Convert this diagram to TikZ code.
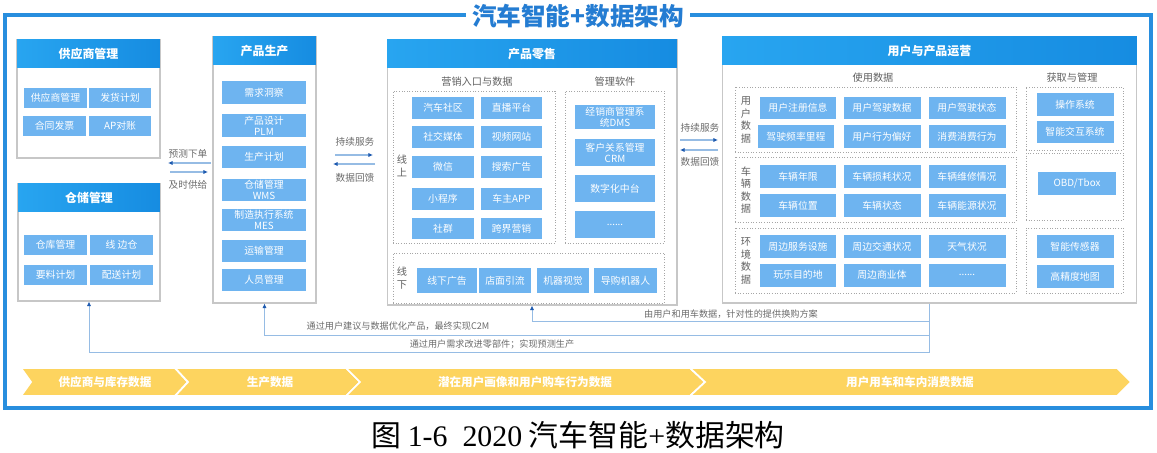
\documentclass[tikz,border=0pt]{standalone}
\usepackage{fontspec}
\setmainfont{Noto Sans CJK SC}
\newfontfamily\capfont{Liberation Serif}
\usepackage{tikz}
\usetikzlibrary{arrows.meta}
\definecolor{frameblue}{RGB}{40,142,222}
\definecolor{titleblue}{RGB}{36,124,210}
\definecolor{headleft}{RGB}{40,165,240}
\definecolor{headright}{RGB}{22,140,225}
\definecolor{itemblue}{RGB}{110,180,240}
\definecolor{lineblue}{RGB}{150,188,228}
\definecolor{tipblue}{RGB}{30,90,175}
\definecolor{bandyellow}{RGB}{253,212,95}
\tikzset{
  panelbox/.style={draw=black!22, fill=white, line width=0.6pt, inner sep=0pt},
  headbar/.style={left color=headleft, right color=headright, text=white, anchor=north,
    font=\bfseries\fontsize{6.8}{8}\selectfont, minimum height=0.56cm, inner sep=0pt},
  itembox/.style={fill=itemblue, text=white, align=center, inner sep=0pt,
    font=\fontsize{5.6}{6.3}\selectfont},
  groupbox/.style={draw=black!35, densely dotted, line width=0.5pt, inner sep=0pt},
  sublabel/.style={text=black!62, font=\fontsize{5.8}{7}\selectfont},
  vlabel/.style={text=black!62, align=center, font=\fontsize{5.8}{7.1}\selectfont},
  sidelabel/.style={text=black!58, font=\fontsize{5.5}{7}\selectfont},
  fblabel/.style={text=black!58, font=\fontsize{5.2}{6}\selectfont},
  flowarrow/.style={draw=lineblue, line width=0.6pt, -{Latex[length=2.6pt,width=2.4pt,color=tipblue]}},
  fbline/.style={draw=lineblue, line width=0.5pt, -{Latex[length=2.6pt,width=2.4pt,color=tipblue]}},
  bandseg/.style={fill=bandyellow, draw=white, line width=1pt},
  bandtext/.style={text=white, font=\bfseries\fontsize{6.6}{8}\selectfont},
}
\begin{document}
\begin{tikzpicture}[x=0.02cm, y=-0.02cm]
        \useasboundingbox (0,0) rectangle (1157,453);
        % Frame and title
        \draw[frameblue, line width=1.8pt] (5,15) rectangle (1151,408);
        \node[fill=white, minimum width=4.1cm, text=titleblue, font=\bfseries\fontsize{14}{16}\selectfont] (title) at (578,16) {汽车智能+数据架构};
        % Supplier panel
        \node[panelbox, minimum width=2.86cm, minimum height=2.36cm] (sup) at (88.5,99) {};
        \node[headbar, minimum width=2.86cm] (suph) at (sup.north) {供应商管理};
        \node[itembox, minimum width=1.26cm, minimum height=0.4cm] (sup1) at (55.5,98) {供应商管理};
        \node[itembox, minimum width=1.26cm, minimum height=0.4cm] (sup2) at (120,98) {发货计划};
        \node[itembox, minimum width=1.26cm, minimum height=0.4cm] (sup3) at (54.5,126) {合同发票};
        \node[itembox, minimum width=1.26cm, minimum height=0.4cm] (sup4) at (120,126) {AP对账};
        % Storage panel
        \node[panelbox, minimum width=2.84cm, minimum height=2.34cm] (stor) at (89,242.5) {};
        \node[headbar, minimum width=2.84cm] (storh) at (stor.north) {仓储管理};
        \node[itembox, minimum width=1.26cm, minimum height=0.4cm] (stor1) at (55.5,245) {仓库管理};
        \node[itembox, minimum width=1.26cm, minimum height=0.4cm] (stor2) at (121.5,245) {线 边仓};
        \node[itembox, minimum width=1.26cm, minimum height=0.4cm] (stor3) at (55.5,275) {要料计划};
        \node[itembox, minimum width=1.26cm, minimum height=0.4cm] (stor4) at (121.5,275) {配送计划};
        % Production panel
        \node[panelbox, minimum width=2.06cm, minimum height=5.32cm] (prod) at (264.5,170) {};
        \node[headbar, minimum width=2.06cm] (prodh) at (prod.north) {产品生产};
        \node[itembox, minimum width=1.68cm, minimum height=0.46cm] (prod1) at (264,92.5) {需求洞察};
        \node[itembox, minimum width=1.68cm, minimum height=0.46cm] (prod2) at (264,125.5) {产品设计\\PLM};
        \node[itembox, minimum width=1.68cm, minimum height=0.46cm] (prod3) at (264,157) {生产计划};
        \node[itembox, minimum width=1.68cm, minimum height=0.46cm] (prod4) at (264,190) {仓储管理\\WMS};
        \node[itembox, minimum width=1.68cm, minimum height=0.46cm] (prod5) at (264,220) {制造执行系统\\MES};
        \node[itembox, minimum width=1.68cm, minimum height=0.44cm] (prod6) at (264,250.5) {运输管理};
        \node[itembox, minimum width=1.68cm, minimum height=0.44cm] (prod7) at (264,279.5) {人员管理};
        % Retail panel
        \node[panelbox, minimum width=5.8cm, minimum height=5.3cm] (ret) at (532,172.5) {};
        \node[headbar, minimum width=5.8cm] (reth) at (ret.north) {产品零售};
        \node[sublabel] (retl1) at (477,82) {营销入口与数据};
        \node[sublabel] (retl2) at (615,82) {管理软件};
        \node[groupbox, minimum width=3.24cm, minimum height=3.04cm] (online) at (474,167) {};
        \node[groupbox, minimum width=1.98cm, minimum height=3.04cm] (soft) at (614.5,167) {};
        \node[groupbox, minimum width=5.42cm, minimum height=1.0cm] (offline) at (528.5,278) {};
        \node[vlabel] (onl) at (402,166) {线\\上};
        \node[vlabel] (offl) at (402,278) {线\\下};
        \node[itembox, minimum width=1.24cm, minimum height=0.44cm] (on1) at (443,108) {汽车社区};
        \node[itembox, minimum width=1.24cm, minimum height=0.44cm] (on2) at (511.5,108) {直播平台};
        \node[itembox, minimum width=1.24cm, minimum height=0.44cm] (on3) at (443,137) {社交媒体};
        \node[itembox, minimum width=1.24cm, minimum height=0.44cm] (on4) at (511.5,137) {视频网站};
        \node[itembox, minimum width=1.24cm, minimum height=0.44cm] (on5) at (443,167) {微信};
        \node[itembox, minimum width=1.24cm, minimum height=0.44cm] (on6) at (511.5,167) {搜索广告};
        \node[itembox, minimum width=1.24cm, minimum height=0.44cm] (on7) at (443,199) {小程序};
        \node[itembox, minimum width=1.24cm, minimum height=0.44cm] (on8) at (511.5,199) {车主APP};
        \node[itembox, minimum width=1.24cm, minimum height=0.44cm] (on9) at (443,228.5) {社群};
        \node[itembox, minimum width=1.24cm, minimum height=0.44cm] (on10) at (511.5,228.5) {跨界营销};
        \node[itembox, minimum width=1.6cm, minimum height=0.5cm] (soft1) at (615,117) {经销商管理系\\统DMS};
        \node[itembox, minimum width=1.6cm, minimum height=0.54cm] (soft2) at (615,152.5) {客户关系管理\\CRM};
        \node[itembox, minimum width=1.6cm, minimum height=0.54cm] (soft3) at (615,188.5) {数字化中台};
        \node[itembox, minimum width=1.6cm, minimum height=0.54cm] (soft4) at (615,224.5) {......};
        \node[itembox, minimum width=1.2cm, minimum height=0.5cm] (off1) at (447,280.5) {线下广告};
        \node[itembox, minimum width=1.04cm, minimum height=0.5cm] (off2) at (505,280.5) {店面引流};
        \node[itembox, minimum width=1.04cm, minimum height=0.5cm] (off3) at (563,280.5) {机器视觉};
        \node[itembox, minimum width=1.26cm, minimum height=0.5cm] (off4) at (625.5,280.5) {导购机器人};
        % Operations panel
        \node[panelbox, minimum width=8.3cm, minimum height=5.32cm] (ops) at (929.5,170) {};
        \node[headbar, minimum width=8.3cm] (opsh) at (ops.north) {用户与产品运营};
        \node[sublabel] (opsl1) at (873,78) {使用数据};
        \node[sublabel] (opsl2) at (1072,78) {获取与管理};
        \node[groupbox, minimum width=5.62cm, minimum height=1.3cm] (user) at (875.5,119.5) {};
        \node[groupbox, minimum width=5.62cm, minimum height=1.3cm] (car) at (875.5,189.5) {};
        \node[groupbox, minimum width=5.62cm, minimum height=1.3cm] (env) at (875.5,260.5) {};
        \node[groupbox, minimum width=1.94cm, minimum height=1.26cm] (get1) at (1074.5,118.5) {};
        \node[groupbox, minimum width=1.94cm, minimum height=1.34cm] (get2) at (1074.5,186.5) {};
        \node[groupbox, minimum width=1.94cm, minimum height=1.3cm] (get3) at (1074.5,260.5) {};
        \node[vlabel] (userl) at (746,120) {用\\户\\数\\据};
        \node[vlabel] (carl) at (746,190) {车\\辆\\数\\据};
        \node[vlabel] (envl) at (746,261) {环\\境\\数\\据};
        \node[itembox, minimum width=1.54cm, minimum height=0.46cm] (user1) at (798,108) {用户注册信息};
        \node[itembox, minimum width=1.54cm, minimum height=0.46cm] (user2) at (882,108) {用户驾驶数据};
        \node[itembox, minimum width=1.54cm, minimum height=0.46cm] (user3) at (967,108) {用户驾驶状态};
        \node[itembox, minimum width=1.54cm, minimum height=0.46cm] (user4) at (796,136.5) {驾驶频率里程};
        \node[itembox, minimum width=1.54cm, minimum height=0.46cm] (user5) at (882,136.5) {用户行为偏好};
        \node[itembox, minimum width=1.54cm, minimum height=0.46cm] (user6) at (967,136.5) {消费消费行为};
        \node[itembox, minimum width=1.54cm, minimum height=0.46cm] (car1) at (798,176.5) {车辆年限};
        \node[itembox, minimum width=1.54cm, minimum height=0.46cm] (car2) at (882,176.5) {车辆损耗状况};
        \node[itembox, minimum width=1.54cm, minimum height=0.46cm] (car3) at (967,176.5) {车辆维修情况};
        \node[itembox, minimum width=1.54cm, minimum height=0.46cm] (car4) at (798,205.5) {车辆位置};
        \node[itembox, minimum width=1.54cm, minimum height=0.46cm] (car5) at (882,205.5) {车辆状态};
        \node[itembox, minimum width=1.54cm, minimum height=0.46cm] (car6) at (967,205.5) {车辆能源状况};
        \node[itembox, minimum width=1.54cm, minimum height=0.46cm] (env1) at (798,246.5) {周边服务设施};
        \node[itembox, minimum width=1.54cm, minimum height=0.46cm] (env2) at (882,246.5) {周边交通状况};
        \node[itembox, minimum width=1.54cm, minimum height=0.46cm] (env3) at (967,246.5) {天气状况};
        \node[itembox, minimum width=1.54cm, minimum height=0.46cm] (env4) at (798,275) {玩乐目的地};
        \node[itembox, minimum width=1.54cm, minimum height=0.46cm] (env5) at (882,275) {周边商业体};
        \node[itembox, minimum width=1.54cm, minimum height=0.46cm] (env6) at (967,275) {......};
        \node[itembox, minimum width=1.54cm, minimum height=0.46cm] (get1a) at (1075,104.5) {操作系统};
        \node[itembox, minimum width=1.54cm, minimum height=0.46cm] (get1b) at (1075,132) {智能交互系统};
        \node[itembox, minimum width=1.56cm, minimum height=0.46cm] (get2a) at (1077,183.5) {OBD/Tbox};
        \node[itembox, minimum width=1.54cm, minimum height=0.46cm] (get3a) at (1075,246.5) {智能传感器};
        \node[itembox, minimum width=1.54cm, minimum height=0.46cm] (get3b) at (1075,276.5) {高精度地图};
        % Side arrows
        \node[sidelabel] (s1a) at (188,154) {预测下单};
        \node[sidelabel] (s1b) at (188,185) {及时供给};
        \node[sidelabel] (s2a) at (355,142) {持续服务};
        \node[sidelabel] (s2b) at (355,178) {数据回馈};
        \node[sidelabel] (s3a) at (700,128) {持续服务};
        \node[sidelabel] (s3b) at (700,162) {数据回馈};
        \coordinate (a1) at (211,163); \coordinate (b1) at (168,163);
        \coordinate (a2) at (170,172); \coordinate (b2) at (208,172);
        \coordinate (a3) at (335,155); \coordinate (b3) at (373,155);
        \coordinate (a4) at (375,164); \coordinate (b4) at (333,164);
        \coordinate (a5) at (680,140); \coordinate (b5) at (718,140);
        \coordinate (a6) at (718,150); \coordinate (b6) at (680,150);
        \draw[flowarrow] (a1) -- (b1);
        \draw[flowarrow] (a2) -- (b2);
        \draw[flowarrow] (a3) -- (b3);
        \draw[flowarrow] (a4) -- (b4);
        \draw[flowarrow] (a5) -- (b5);
        \draw[flowarrow] (a6) -- (b6);
        % Feedback paths
        \coordinate (fb1) at (929.5,321);
        \coordinate (fb2) at (929.5,335);
        \coordinate (fb3) at (929.5,352);
        \draw[fbline] (ops.south) -- (fb3) -| (stor.south);
        \draw[fbline] (fb2) -| (prod.south);
        \draw[fbline] (fb1) -| (ret.south);
        \node[fblabel] (fbt1) at (731,314) {由用户和用车数据，针对性的提供换购方案};
        \node[fblabel] (fbt2) at (398,326) {通过用户建议与数据优化产品，最终实现C2M};
        \node[fblabel] (fbt3) at (492,344) {通过用户需求改进零部件；实现预测生产};
        % Data band
        \path[bandseg] (21,368) -- (175,368) -- (188,382) -- (175,396) -- (21,396) -- (31,382) -- cycle;
        \path[bandseg] (175,368) -- (346,368) -- (360,382) -- (346,396) -- (175,396) -- (188,382) -- cycle;
        \path[bandseg] (346,368) -- (690,368) -- (705,382) -- (690,396) -- (346,396) -- (360,382) -- cycle;
        \path[bandseg] (690,368) -- (1117,368) -- (1131,382) -- (1117,396) -- (690,396) -- (705,382) -- cycle;
        \node[bandtext] (band1) at (105,382) {供应商与库存数据};
        \node[bandtext] (band2) at (270,382) {生产数据};
        \node[bandtext] (band3) at (525,382) {潜在用户画像和用户购车行为数据};
        \node[bandtext] (band4) at (910,382) {用户用车和车内消费数据};
        % Caption
        \node[font=\fontsize{17}{19}\selectfont] (cap) at (578,435) {图 {\capfont 1-6\ \ 2020} 汽车智能{\capfont +}数据架构};
    \end{tikzpicture}
\end{document}
